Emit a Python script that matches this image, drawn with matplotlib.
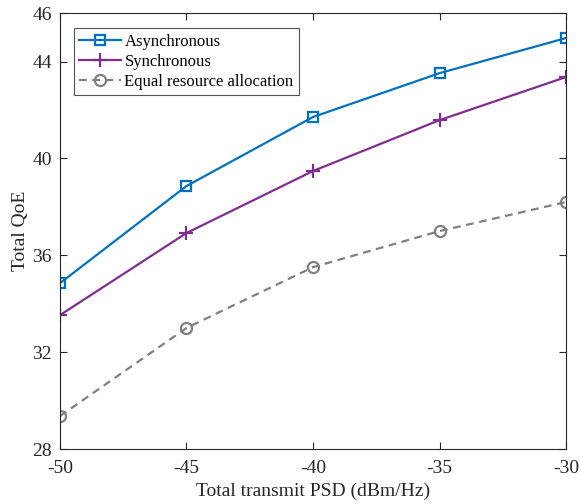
import matplotlib
matplotlib.use("Agg")
import matplotlib.pyplot as plt

x = [-50, -45, -40, -35, -30]
async_qoe = [34.85, 38.86, 41.71, 43.52, 44.97]
sync_qoe = [33.53, 36.92, 39.48, 41.58, 43.36]
equal_qoe = [29.36, 33.0, 35.51, 37.0, 38.2]
xticks = [-50, -45, -40, -35, -30]
yticks = [28, 32, 36, 40, 44, 46]

plt.rcParams['font.family'] = ['Liberation Serif', 'DejaVu Serif']
plt.rcParams['mathtext.fontset'] = 'stix'

fig = plt.figure(figsize=(5.8, 5.04), dpi=100)
ax = fig.add_axes([0.1034, 0.109, 0.8725, 0.865])

ax.plot(x, async_qoe, color='#0072BD', lw=1.6, marker='s', ms=6.5, mfc='none', mew=1.6, label='Asynchronous')
ax.plot(x, sync_qoe, color='#7E2F8E', lw=1.6, marker='+', ms=10, mew=1.6, label='Synchronous')
ax.plot(x, equal_qoe, color='#808080', lw=1.6, ls=(0, (3.5, 2.5)), marker='o', ms=8, mfc='none', mew=1.6,
        label='Equal resource allocation')

ax.set_xlim(-50, -30)
ax.set_ylim(28, 46)
ax.set_xticks(xticks)
ax.set_yticks(yticks)
ax.set_xticklabels([str(v) for v in xticks])
ax.set_yticklabels([str(v) for v in yticks])
ax.tick_params(direction='in', top=True, right=True, labelsize=14, length=5, width=0.8, colors='#262626')
ax.tick_params(axis='x', pad=8)
ax.tick_params(axis='y', pad=6)
for s in ax.spines.values():
    s.set_color('#262626')
    s.set_linewidth(0.8)

ax.set_xlabel('Total transmit PSD (dBm/Hz)', fontsize=14, color='#262626', labelpad=4)
ax.set_ylabel('Total QoE', fontsize=14, color='#262626', labelpad=2)

leg = ax.legend(loc='upper left', bbox_to_anchor=(0.027, 0.965), fontsize=12, frameon=True, fancybox=False,
                edgecolor='#262626', handlelength=2.5, handletextpad=0.2, borderpad=0.35, labelspacing=0.22,
                borderaxespad=0.0)
leg.get_frame().set_linewidth(0.8)

fig.savefig('out.png', dpi=100)
